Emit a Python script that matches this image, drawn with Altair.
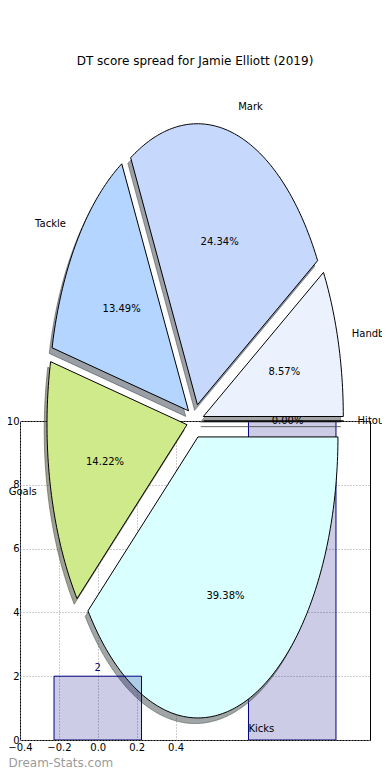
import altair as alt
import numpy as np
import pandas as pd

# ---------------- data ----------------
title_text = "DT score spread for Jamie Elliott (2019)"
slice_labels = ["Hitout", "Handball", "Mark", "Tackle", "Goals", "Kicks"]
slice_pcts = [0.00, 8.57, 24.34, 13.49, 14.22, 39.38]
slice_colors = ["#ffd9d9", "#ebf2fe", "#c6d9fd", "#b3d5ff", "#cfea8b", "#d9ffff"]

bar_x = [0, 1]
bar_values = [2, 12]
bar_label_text = ["2", "12"]
x_ticks = [-0.4, -0.2, 0.0, 0.2, 0.4]
y_ticks = [0, 2, 4, 6, 8, 10]
watermark = "Dream-Stats.com"

# ---------------- geometry / style ----------------
EXPLODE = 0.06
SH_DX, SH_DY = -0.02, -0.02
BAR_W = 0.45

PAD_L, PAD_T, PAD_R, PAD_B = 12, 413, 12, 32
W, H = 350, 319
CX, CY = 195.2 - 8 - PAD_L, 0.0   # pie centre in plot pixels
RX, RY = 140.0, 281.0

FONT = "DejaVu Sans"


def shade(hexcol, k=0.3):
    h = hexcol.lstrip("#")
    r, g, b = (int(h[i:i + 2], 16) for i in (0, 2, 4))
    return "#{:02x}{:02x}{:02x}".format(int(r * k), int(g * k), int(b * k))


poly_rows, lab_rows = [], []
start = 0.0
for lab, pct, col in zip(slice_labels, slice_pcts, slice_colors):
    a0 = start
    a1 = start + pct / 100.0 * 360.0
    start = a1
    mid = np.radians((a0 + a1) / 2.0)
    ox, oy = EXPLODE * np.cos(mid), EXPLODE * np.sin(mid)
    n = max(2, int(np.ceil(a1 - a0)) + 1)
    angs = np.radians(np.linspace(a0, a1, n))
    pts = [(ox, oy)] + [(ox + np.cos(t), oy + np.sin(t)) for t in angs] + [(ox, oy)]
    for i, (px, py) in enumerate(pts):
        poly_rows.append(dict(slice=lab, i=i, x=px, y=py, sx=px + SH_DX, sy=py + SH_DY,
                              fill=col, shadow=shade(col)))
    lab_rows.append(dict(slice=lab,
                         lx=ox + 1.1 * np.cos(mid), ly=oy + 1.1 * np.sin(mid),
                         px=ox + 0.6 * np.cos(mid), py=oy + 0.6 * np.sin(mid),
                         pct_text="{:.2f}%".format(pct),
                         side="right" if np.cos(mid) > 0 else "left"))

poly = pd.DataFrame(poly_rows)
labs = pd.DataFrame(lab_rows)
bars = pd.DataFrame({"x": bar_x, "v": bar_values, "t": bar_label_text})

PX = alt.Scale(domain=[-1, 1], range=[CX - RX, CX + RX], nice=False, zero=False)
PY = alt.Scale(domain=[-1, 1], range=[CY + RY, CY - RY], nice=False, zero=False)
BX = alt.Scale(domain=[-0.4, 1.4], nice=False, zero=False)
BY = alt.Scale(domain=[0, 10], nice=False, zero=False)

x_axis = alt.Axis(values=x_ticks, format=".1f", grid=True, gridDash=[1, 2], gridColor="#9a9a9a",
                  gridWidth=1, ticks=False, domain=False, labelFont=FONT, labelFontSize=10,
                  labelColor="black", labelPadding=2, labelFlush=False, labelOverlap=False,
                  title=watermark, titleX=-PAD_L, titleY=22, titleAlign="left",
                  titleBaseline="middle", titleAnchor="start", titleColor="#9b9b9b",
                  titleFont=FONT, titleFontSize=12, titleFontWeight="normal")
y_axis = alt.Axis(values=y_ticks, format="d", grid=True, gridDash=[1, 2], gridColor="#9a9a9a",
                  gridWidth=1, ticks=False, domain=False, labelFont=FONT, labelFontSize=10,
                  labelColor="black", labelPadding=1, labelFlush=False, labelOverlap=False,
                  title=None)

bar_base = alt.Chart(bars).transform_calculate(
    x0="datum.x - %f" % (BAR_W / 2), x1="datum.x + %f" % (BAR_W / 2))

bar_style = dict(fill="#000080", fillOpacity=0.2, stroke="#000080", strokeWidth=1, clip=True)

bar_under = bar_base.transform_filter("datum.x == 1").mark_rect(**bar_style).encode(
    x=alt.X("x0:Q", scale=BX, axis=x_axis),
    x2="x1:Q",
    y=alt.Y("v:Q", scale=BY, axis=y_axis),
    y2=alt.datum(0),
)

bar_over = bar_base.transform_filter("datum.x == 0").mark_rect(**bar_style).encode(
    x=alt.X("x0:Q", scale=BX, axis=None),
    x2="x1:Q",
    y=alt.Y("v:Q", scale=BY, axis=None),
    y2=alt.datum(0),
)
bar_text = bar_base.transform_filter("datum.x == 0").mark_text(
    font=FONT, fontSize=10, color="#000080", baseline="bottom", dy=-3).encode(
    x=alt.X("x:Q", scale=BX, axis=None),
    y=alt.Y("v:Q", scale=BY, axis=None),
    text="t:N",
)

shadows = alt.Chart(poly).mark_line(strokeWidth=1, strokeOpacity=0.5, fillOpacity=0.5).encode(
    x=alt.X("sx:Q", scale=PX, axis=None),
    y=alt.Y("sy:Q", scale=PY, axis=None),
    detail="slice:N",
    order="i:Q",
    fill=alt.Fill("shadow:N", scale=None),
    stroke=alt.Stroke("shadow:N", scale=None),
)

wedges = alt.Chart(poly).mark_line(stroke="black", strokeWidth=1, strokeJoin="miter").encode(
    x=alt.X("x:Q", scale=PX, axis=None),
    y=alt.Y("y:Q", scale=PY, axis=None),
    detail="slice:N",
    order="i:Q",
    fill=alt.Fill("fill:N", scale=None),
)

lab_right = alt.Chart(labs).transform_filter("datum.side == 'right'").mark_text(
    font=FONT, fontSize=10, color="black", align="left", baseline="middle").encode(
    x=alt.X("lx:Q", scale=PX, axis=None), y=alt.Y("ly:Q", scale=PY, axis=None), text="slice:N")
lab_left = alt.Chart(labs).transform_filter("datum.side == 'left'").mark_text(
    font=FONT, fontSize=10, color="black", align="right", baseline="middle").encode(
    x=alt.X("lx:Q", scale=PX, axis=None), y=alt.Y("ly:Q", scale=PY, axis=None), text="slice:N")
pct_text = alt.Chart(labs).mark_text(
    font=FONT, fontSize=10, color="black", align="center", baseline="middle").encode(
    x=alt.X("px:Q", scale=PX, axis=None), y=alt.Y("py:Q", scale=PY, axis=None), text="pct_text:N")

chart = alt.layer(
    bar_under, shadows, wedges, lab_right, lab_left, pct_text, bar_over, bar_text
).resolve_scale(x="independent", y="independent").properties(
    width=W, height=H,
    autosize=alt.AutoSizeParams(type="none"),
    padding={"left": PAD_L, "top": PAD_T, "right": PAD_R, "bottom": PAD_B},
    title=alt.Title(title_text, font=FONT, fontSize=12, fontWeight="normal", color="black",
                    anchor="middle", frame="group", offset=34),
).configure_view(stroke="black", strokeWidth=1).configure_axis(gridOpacity=1)

chart.save("out.html", embed_options={"renderer": "svg", "actions": False})
